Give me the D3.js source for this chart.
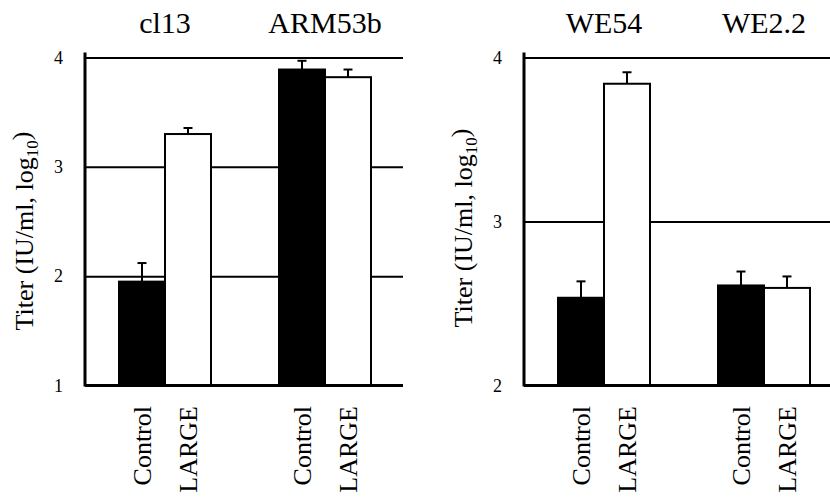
<!DOCTYPE html>
<html>
<head>
<meta charset="utf-8">
<script src="https://cdn.jsdelivr.net/npm/d3@7"></script>
<style>
  body { margin: 0; background: #fff; }
  svg { display: block; }
  svg text { font-family: "Liberation Serif", "Times New Roman", "DejaVu Serif", serif; }
</style>
</head>
<body>
<div id="chart"></div>
<script>
// values (log10 IU/ml), errors are upward SD only
const treatments = ['Control', 'LARGE'];

const leftGroups = ['cl13', 'ARM53b'];
const leftControl = [1.95, 3.89];
const leftLarge = [3.30, 3.82];
const leftControlErr = [0.17, 0.08];
const leftLargeErr = [0.055, 0.07];
const leftTicks = [1, 2, 3, 4];

const rightGroups = ['WE54', 'WE2.2'];
const rightControl = [2.535, 2.61];
const rightLarge = [3.84, 2.595];
const rightControlErr = [0.10, 0.085];
const rightLargeErr = [0.07, 0.07];
const rightTicks = [2, 3, 4];

const width = 830;
const height = 497;
const plotTop = 57.5;
const plotBottom = 385.5;
const panelW = 320;
const barW = 46;
const serif = '"Liberation Serif", "Times New Roman", serif';

const svg = d3.select('#chart').append('svg')
  .attr('width', width)
  .attr('height', height)
  .attr('font-family', serif);

const drawPanel = (x0, groups, control, large, controlErr, largeErr, ticks, labelY) => {
  const rows = groups.map((g, i) => ({
    group: g,
    values: [
      { key: treatments[0], value: control[i], err: controlErr[i] },
      { key: treatments[1], value: large[i], err: largeErr[i] },
    ],
  }));

  const g = svg.append('g').attr('transform', `translate(${x0},0)`);

  const x = d3.scaleBand().domain(groups).range([0, panelW]).padding(0);
  const xInner = d3.scaleBand().domain(treatments).range([-barW, barW]);
  const y = d3.scaleLinear().domain([ticks[0], ticks[ticks.length - 1]]).range([plotBottom, plotTop]);

  // gridlines + tick labels
  const axis = g.append('g')
    .call(d3.axisLeft(y).tickValues(ticks).tickSizeInner(-318).tickSizeOuter(0).tickPadding(22).tickFormat(d3.format('d')));
  axis.attr('font-family', serif);
  axis.select('.domain').remove();
  axis.selectAll('.tick line').attr('stroke', '#000').attr('stroke-width', 2);
  axis.selectAll('.tick text')
    .attr('font-size', 18)
    .attr('fill', '#000');

  const grp = g.selectAll('.grp')
    .data(rows)
    .enter().append('g')
    .attr('class', 'grp')
    .attr('transform', d => `translate(${x(d.group) + x.bandwidth() / 2},0)`);

  const bar = grp.selectAll('.bar')
    .data(d => d.values)
    .enter().append('g')
    .attr('class', 'bar');

  // error bars (upward only)
  bar.append('line')
    .attr('x1', d => xInner(d.key) + barW / 2)
    .attr('x2', d => xInner(d.key) + barW / 2)
    .attr('y1', d => y(d.value))
    .attr('y2', d => y(d.value + d.err))
    .attr('stroke', '#000')
    .attr('stroke-width', 2);
  bar.append('line')
    .attr('x1', d => xInner(d.key) + barW / 2 - 4.5)
    .attr('x2', d => xInner(d.key) + barW / 2 + 4.5)
    .attr('y1', d => y(d.value + d.err))
    .attr('y2', d => y(d.value + d.err))
    .attr('stroke', '#000')
    .attr('stroke-width', 2);

  bar.append('rect')
    .attr('x', d => xInner(d.key))
    .attr('y', d => y(d.value))
    .attr('width', barW)
    .attr('height', d => plotBottom - y(d.value))
    .attr('fill', d => (d.key === 'Control' ? '#000' : '#fff'))
    .attr('stroke', '#000')
    .attr('stroke-width', 2);

  // group titles
  grp.append('text')
    .attr('y', 33)
    .attr('text-anchor', 'middle')
    .attr('font-size', 30)
    .text(d => d.group);

  // treatment labels, rotated
  bar.append('text')
    .attr('transform', d => `translate(${xInner(d.key) + barW / 2},406) rotate(-90)`)
    .attr('dy', '0.35em')
    .attr('text-anchor', 'end')
    .attr('font-size', 26)
    .text(d => d.key);

  // axis lines
  g.append('line')
    .attr('x1', 0).attr('x2', 0)
    .attr('y1', plotTop - 5).attr('y2', plotBottom + 1)
    .attr('stroke', '#000').attr('stroke-width', 3);
  g.append('line')
    .attr('x1', 0).attr('x2', 318)
    .attr('y1', plotBottom).attr('y2', plotBottom)
    .attr('stroke', '#000').attr('stroke-width', 3);

  // y label
  const label = g.append('text')
    .attr('transform', `translate(${-52},${labelY}) rotate(-90)`)
    .attr('text-anchor', 'middle')
    .attr('font-size', 26)
    .text('Titer (IU/ml, log');
  label.append('tspan')
    .attr('font-size', 17)
    .attr('dy', '0.3em')
    .text('10');
  label.append('tspan')
    .attr('dy', '-0.3em')
    .text(')');
};

drawPanel(85, leftGroups, leftControl, leftLarge, leftControlErr, leftLargeErr, leftTicks, 231);
drawPanel(524, rightGroups, rightControl, rightLarge, rightControlErr, rightLargeErr, rightTicks, 228);
</script>
</body>
</html>
